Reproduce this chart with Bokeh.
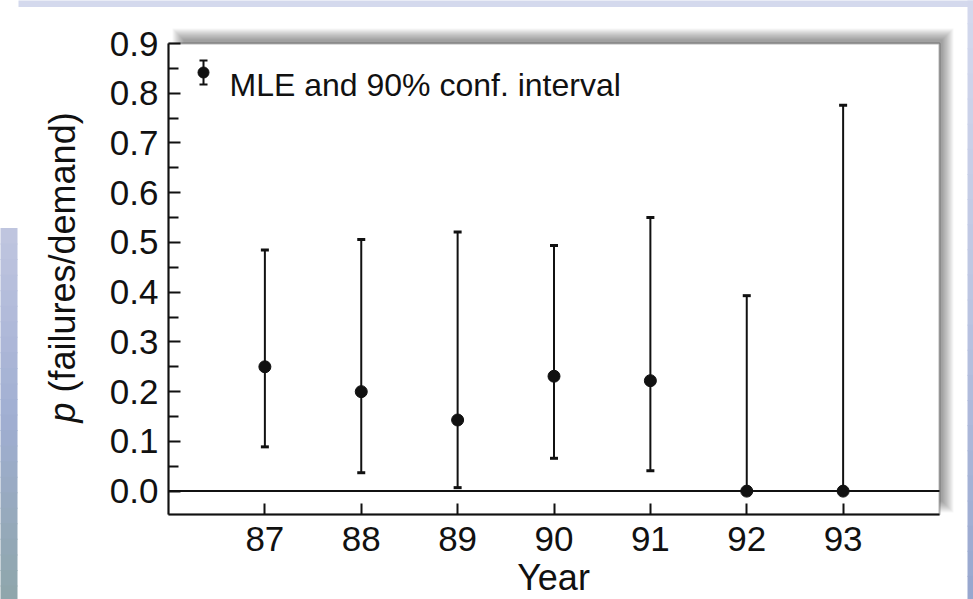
import math
from bokeh.plotting import figure
from bokeh.models import (ColumnDataSource, Whisker, TeeHead, Label, BoxAnnotation,
                          FixedTicker, Range1d, CustomJSTickFormatter)
from bokeh.embed import file_html
from bokeh.resources import INLINE

# ---------------- data ----------------
years = [87, 88, 89, 90, 91, 92, 93]
mle = [0.25, 0.20, 0.143, 0.231, 0.222, 0.0, 0.0]
lower = [0.089, 0.037, 0.007, 0.066, 0.041, 0.0, 0.0]
upper = [0.485, 0.506, 0.521, 0.494, 0.550, 0.393, 0.776]
y_ticks = [0.0, 0.1, 0.2, 0.3, 0.4, 0.5, 0.6, 0.7, 0.8, 0.9]
y_minor = [0.05, 0.15, 0.25, 0.35, 0.45, 0.55, 0.65, 0.75, 0.85]
x_label = "Year"
y_label_var = "p"
y_label_rest = "(failures/demand)"
legend_text = "MLE and 90% conf. interval"

# ---------------- layout ----------------
W, H = 973, 599
FL, FR, FT, FB = 168, 939, 43, 514      # pixel box of the data area
X0, X1 = 86.0, 94.0                      # data limits of that box
Y0, Y1 = -0.047, 0.9
FONT = "Liberation Sans"
INK = "#111111"


def dx(px):
    return X0 + (px - FL) * (X1 - X0) / (FR - FL)


def dy(py):
    return Y1 - (py - FT) * (Y1 - Y0) / (FB - FT)


# the frame spans the whole canvas; the axes are pinned to the data box
p = figure(width=W, height=H, x_range=Range1d(dx(0), dx(W)), y_range=Range1d(dy(H), dy(0)),
           output_backend="svg", toolbar_location=None,
           min_border_left=0, min_border_right=0, min_border_top=0, min_border_bottom=0)
p.background_fill_color = "white"
p.border_fill_color = "white"
p.outline_line_color = None
p.xgrid.visible = False
p.ygrid.visible = False


# ---------------- background decorations (slide strips, shadow) ----------------
def lerp(c1, c2, t):
    return "#%02x%02x%02x" % tuple(int(round(a + (b - a) * t)) for a, b in zip(c1, c2))


def vgrad(x_left, x_right, y_top, y_bot, stops, n=24):
    step = (y_bot - y_top) / n
    for i in range(n):
        yc = y_top + (i + 0.5) * step
        col = lerp(stops[-1][1], stops[-1][1], 0)
        for j in range(len(stops) - 1):
            (ya, ca), (yb, cb) = stops[j], stops[j + 1]
            if ya <= yc <= yb:
                col = lerp(ca, cb, (yc - ya) / (yb - ya))
                break
        p.add_layout(BoxAnnotation(left=dx(x_left), right=dx(x_right),
                                   top=dy(y_top + i * step - 0.5),
                                   bottom=dy(y_top + (i + 1) * step + 0.5),
                                   fill_color=col, fill_alpha=1.0, line_alpha=0,
                                   level="underlay"))


vgrad(18, W + 2, -2, 6, [(-2, (214, 219, 238)), (6, (210, 215, 236))], n=1)
vgrad(-2, 17, 228, H + 2, [(228, (192, 198, 224)), (420, (160, 174, 210)), (H + 2, (142, 166, 170))])
vgrad(967, W + 2, -2, H + 2, [(-2, (212, 217, 237)), (300, (188, 197, 226)), (H + 2, (150, 166, 206))])

# soft drop shadow offset up/right of the data box
L0, R0, T0, B0 = 172, 953, 28, 512
for s in range(12):
    p.add_layout(BoxAnnotation(left=dx(L0 + s), right=dx(R0 - s), top=dy(T0 + s), bottom=dy(B0 - s),
                               fill_color="black", fill_alpha=0.035, line_alpha=0,
                               level="underlay"))

# white data box with black outline
p.add_layout(BoxAnnotation(left=X0, right=X1, bottom=Y0, top=Y1, fill_color="white", fill_alpha=1.0,
                           line_color=INK, line_width=2, level="underlay"))

# ---------------- axes ----------------
p.xaxis.ticker = FixedTicker(ticks=years)
p.yaxis.ticker = FixedTicker(ticks=y_ticks, minor_ticks=y_minor)
p.yaxis.formatter = CustomJSTickFormatter(code="return tick.toFixed(1);")
p.xaxis.fixed_location = Y0
p.yaxis.fixed_location = X0
p.xaxis.bounds = (X0, X1)
p.yaxis.bounds = (Y0, Y1)

for ax in (p.xaxis, p.yaxis):
    ax.axis_line_color = INK
    ax.axis_line_width = 2
    ax.major_tick_line_color = INK
    ax.major_tick_line_width = 2
    ax.minor_tick_line_color = INK
    ax.minor_tick_line_width = 2
    ax.major_tick_out = 0
    ax.minor_tick_out = 0
    ax.major_label_text_font = FONT
    ax.major_label_text_font_size = "35px"
    ax.major_label_text_color = INK
    ax.axis_label = None

p.xaxis.major_tick_in = 11
p.xaxis.minor_tick_in = 0
p.xaxis.minor_tick_line_color = None
p.xaxis.major_label_standoff = 12
p.yaxis.major_tick_in = 12
p.yaxis.minor_tick_in = 10
p.yaxis.major_label_standoff = 10

# zero reference line across the data box
p.segment(x0=[X0], x1=[X1], y0=[0.0], y1=[0.0], line_color=INK, line_width=2)

# ---------------- data marks ----------------
src = ColumnDataSource(dict(year=years, mle=mle, lower=lower, upper=upper))
p.add_layout(Whisker(source=src, base="year", lower="lower", upper="upper",
                     line_color=INK, line_width=2,
                     upper_head=TeeHead(size=8, line_width=3, line_color=INK),
                     lower_head=TeeHead(size=8, line_width=3, line_color=INK)))
p.scatter(x="year", y="mle", source=src, size=12, marker="circle",
          fill_color=INK, line_color=INK)

# ---------------- legend (manual) ----------------
leg = ColumnDataSource(dict(x=[dx(203)], y=[dy(72)], lo=[dy(84)], hi=[dy(60)]))
p.add_layout(Whisker(source=leg, base="x", lower="lo", upper="hi",
                     line_color=INK, line_width=2,
                     upper_head=TeeHead(size=8, line_width=2, line_color=INK),
                     lower_head=TeeHead(size=8, line_width=2, line_color=INK)))
p.scatter(x="x", y="y", source=leg, size=11, marker="circle", fill_color=INK, line_color=INK)
p.add_layout(Label(x=dx(229), y=dy(84), text=legend_text, text_font=FONT,
                   text_font_size="32px", text_color=INK, text_align="left",
                   text_baseline="alphabetic"))

# ---------------- axis titles ----------------
p.add_layout(Label(x=dx(553), y=dy(577), text=x_label, text_font=FONT,
                   text_font_size="36px", text_color=INK, text_align="center",
                   text_baseline="alphabetic"))
YL_FS = 36
YL_X = 62
p.add_layout(Label(x=dx(YL_X), y=dy(422), text=y_label_var, text_font=FONT,
                   text_font_size=f"{YL_FS}px", text_font_style="italic", text_color=INK,
                   angle=math.pi / 2, text_align="left", text_baseline="alphabetic"))
p.add_layout(Label(x=dx(YL_X), y=dy(422 - 0.834 * YL_FS), text=y_label_rest, text_font=FONT,
                   text_font_size=f"{YL_FS}px", text_color=INK,
                   angle=math.pi / 2, text_align="left", text_baseline="alphabetic"))

open("out.html", "w").write(file_html(p, INLINE))
